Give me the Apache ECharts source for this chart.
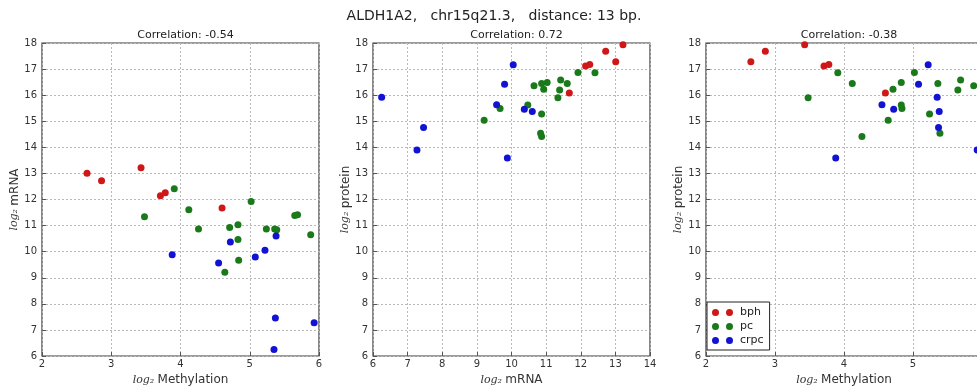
<!DOCTYPE html>
<html><head><meta charset="utf-8">
<script src="https://cdn.jsdelivr.net/npm/echarts@6/dist/echarts.min.js"></script>
<style>html,body{margin:0;padding:0;background:#fff;overflow:hidden;}#c{width:977px;height:390px;}</style>
</head><body><div id="c"></div>
<script>
var groups = ['bph', 'pc', 'crpc'];
var colors = ['#cf1717', '#1a7a1a', '#1212d2'];

var bphMeth = [2.65, 2.86, 3.43, 3.71, 3.78, 4.60];
var bphMrna = [13.01, 12.72, 13.22, 12.14, 12.26, 11.67];
var bphProt = [17.28, 17.68, 17.93, 17.12, 17.18, 16.08];

var pcMeth = [3.91, 3.48, 4.12, 4.26, 4.71, 4.83, 4.83, 4.84, 4.64, 5.02, 5.24, 5.36, 5.39, 5.65, 5.69, 5.88];
var pcMrna = [12.41, 11.34, 11.61, 10.87, 10.93, 11.03, 10.47, 9.67, 9.21, 11.92, 10.87, 10.87, 10.84, 11.39, 11.42, 10.65];
var pcProt = [16.86, 15.90, 16.45, 14.42, 16.23, 16.49, 15.62, 15.49, 15.04, 16.87, 15.28, 16.45, 14.54, 16.20, 16.58, 16.36];

var crpcMeth = [3.88, 4.55, 4.72, 5.08, 5.22, 5.38, 5.37, 5.35, 5.93];
var crpcMrna = [9.88, 9.57, 10.37, 9.80, 10.05, 10.60, 7.46, 6.25, 7.27];
var crpcProt = [13.59, 15.63, 15.46, 16.42, 17.17, 15.37, 14.76, 15.92, 13.90];

var suptitle = 'ALDH1A2,   chr15q21.3,   distance: 13 bp.';
var panelTitles = ['Correlation: -0.54', 'Correlation: 0.72', 'Correlation: -0.38'];
var xNames = ['Methylation', 'mRNA', 'Methylation'];
var yNames = ['mRNA', 'protein', 'protein'];
var xRanges = [[2, 6, 1], [6, 14, 1], [2, 6, 1]];
var yRange = [6, 18, 1];

var meth = [bphMeth, pcMeth, crpcMeth];
var mrna = [bphMrna, pcMrna, crpcMrna];
var prot = [bphProt, pcProt, crpcProt];
var panelX = [meth, mrna, meth];
var panelY = [mrna, prot, prot];

var FONT = 'DejaVu Sans';
var grids = [
  {left: 42, top: 43, width: 277, height: 313},
  {left: 373, top: 43, width: 277, height: 313},
  {left: 706, top: 43, width: 276, height: 313}
];
var gridOpts = grids.map(function (g) {
  return {left: g.left, top: g.top, width: g.width, height: g.height, show: true,
    borderColor: '#3a3a3a', borderWidth: 1.2, backgroundColor: '#fff',
    containLabel: false, outerBoundsMode: 'none'};
});
var centers = grids.map(function (g) { return g.left + g.width / 2; });

var rich = {
  lg: {fontFamily: 'DejaVu Serif', fontStyle: 'italic', fontSize: 11, color: '#333'},
  tx: {fontFamily: FONT, fontSize: 12, color: '#333'}
};

var xAxes = [], yAxes = [], series = [], titles = [];
titles.push({text: suptitle, left: 489, top: 4, textAlign: 'center',
  textStyle: {fontFamily: FONT, fontSize: 14, fontWeight: 'normal', color: '#222'}});
for (var p = 0; p < 3; p++) {
  titles.push({text: panelTitles[p], left: centers[p], top: 25, textAlign: 'center',
    textStyle: {fontFamily: FONT, fontSize: 11, fontWeight: 'normal', color: '#222'}});
  xAxes.push({
    gridIndex: p, type: 'value', min: xRanges[p][0], max: xRanges[p][1], interval: xRanges[p][2],
    name: '{lg|log₂} {tx|' + xNames[p] + '}', nameLocation: 'middle', nameGap: 14,
    nameTextStyle: {rich: rich},
    axisLine: {show: false},
    axisTick: {show: true, inside: true, length: 4, lineStyle: {color: '#555'}},
    axisLabel: {fontFamily: FONT, fontSize: 10, color: '#333', margin: 3, hideOverlap: false},
    splitLine: {show: true, lineStyle: {color: '#b8b8b8', type: [2, 2], width: 1}}
  });
  yAxes.push({
    gridIndex: p, type: 'value', min: yRange[0], max: yRange[1], interval: yRange[2],
    name: '{lg|log₂} {tx|' + yNames[p] + '}', nameLocation: 'middle', nameGap: 20, nameRotate: 90,
    nameTextStyle: {rich: rich},
    axisLine: {show: false},
    axisTick: {show: true, inside: true, length: 4, lineStyle: {color: '#555'}},
    axisLabel: {fontFamily: FONT, fontSize: 10, color: '#333', margin: 5},
    splitLine: {show: true, lineStyle: {color: '#b8b8b8', type: [2, 2], width: 1}}
  });
  for (var k = 0; k < 3; k++) {
    var xs = panelX[p][k], ys = panelY[p][k];
    var d = xs.map(function (v, i) { return [v, ys[i]]; });
    series.push({
      name: groups[k], type: 'scatter', xAxisIndex: p, yAxisIndex: p,
      symbol: 'circle', symbolSize: 7, data: d, clip: false,
      itemStyle: {color: colors[k], opacity: 1},
      emphasis: {disabled: true}, silent: true
    });
  }
}

var twoDots = 'path://M0,3.5A3.5,3.5,0,1,0,7,3.5A3.5,3.5,0,1,0,0,3.5Z M14,3.5A3.5,3.5,0,1,0,21,3.5A3.5,3.5,0,1,0,14,3.5Z';

var option = {
  animation: false,
  backgroundColor: '#fff',
  title: titles,
  grid: gridOpts,
  xAxis: xAxes,
  yAxis: yAxes,
  legend: {
    data: groups, orient: 'vertical', left: 707, top: 302,
    icon: twoDots, itemWidth: 21, itemHeight: 7, itemGap: 3,
    padding: [5, 6, 4, 5],
    borderColor: '#222', borderWidth: 1, backgroundColor: '#fff',
    selectedMode: false,
    textStyle: {fontFamily: FONT, fontSize: 11, color: '#222', padding: [0, 0, 0, 2]}
  },
  series: series
};
var chart = echarts.init(document.getElementById('c'), null, {renderer: 'canvas'});
chart.setOption(option);
</script>
</body></html>
